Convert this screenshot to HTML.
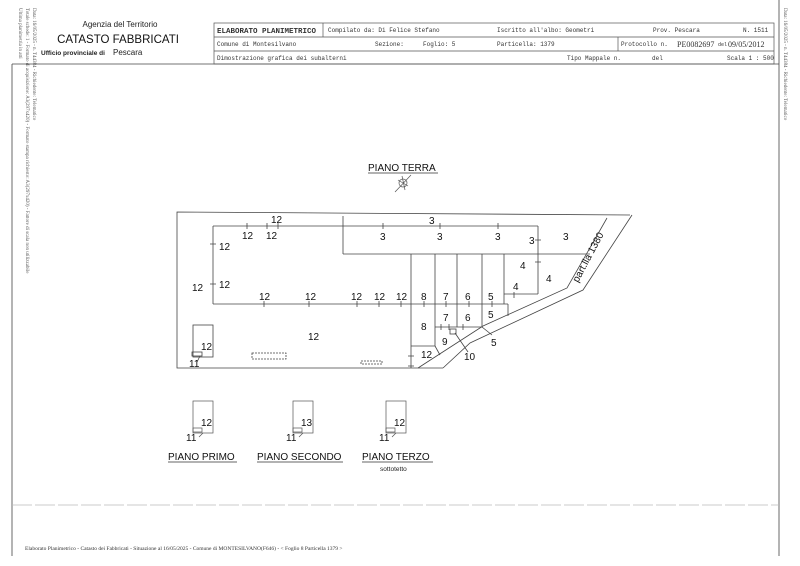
<!DOCTYPE html>
<html><head><meta charset="utf-8"><style>
html,body{margin:0;padding:0;background:#fff;}
svg{display:block;font-family:"Liberation Sans",sans-serif;}
.m{font-family:"Liberation Mono",monospace;font-size:6px;fill:#333;}
.n{font-size:10px;fill:#111;}
</style></head><body>
<svg width="800" height="566" viewBox="0 0 800 566">
<rect width="800" height="566" fill="#fff"/>
<g font-family="Liberation Serif,serif" font-size="5px" fill="#555">
<text transform="translate(33,8) rotate(90)">Data: 16/05/2025 - n. T44384 - Richiedente: Telematico</text>
<text transform="translate(26,8) rotate(90)">Totale schede: 1 - Formato di acquisizione: A3(297x420) - Formato stampa richiesto: A3(297x420) - Fattore di scala non utilizzabile</text>
<text transform="translate(19,8) rotate(90)">Ultima planimetria in atti</text>
<text transform="translate(784,8) rotate(90)">Data: 16/05/2025 - n. T44384 - Richiedente: Telematico</text>
</g>
<g stroke="#444" stroke-width="0.8" fill="none">
<line x1="12" y1="64" x2="12" y2="556"/>
<line x1="779" y1="0" x2="779" y2="556"/>
<line x1="12" y1="64" x2="779" y2="64"/>
<line x1="12" y1="505" x2="779" y2="505" stroke="#bbb" stroke-dasharray="20 3"/>
</g>
<text x="120" y="27" font-size="8" text-anchor="middle" fill="#222">Agenzia del Territorio</text>
<text x="118" y="43" font-size="11.5" text-anchor="middle" fill="#111">CATASTO FABBRICATI</text>
<text x="41" y="55" font-size="6.5" font-weight="bold" fill="#222">Ufficio provinciale di</text>
<text x="113" y="55" font-size="8" fill="#222">Pescara</text>
<g stroke="#555" stroke-width="0.7" fill="none">
<rect x="214" y="23" width="560" height="41"/>
<line x1="214" y1="37" x2="774" y2="37"/>
<line x1="214" y1="51" x2="774" y2="51"/>
<line x1="323" y1="23" x2="323" y2="37"/>
<line x1="618" y1="37" x2="618" y2="51"/>
</g>
<text class="m" x="217" y="33" style="font-size:7.5px;font-weight:bold">ELABORATO PLANIMETRICO</text>
<text class="m" x="328" y="32">Compilato da: Di Felice Stefano</text>
<text class="m" x="497" y="32">Iscritto all'albo: Geometri</text>
<text class="m" x="653" y="32">Prov. Pescara</text>
<text class="m" x="743" y="32">N.  1511</text>
<text class="m" x="217" y="46">Comune di Montesilvano</text>
<text class="m" x="375" y="46">Sezione:</text>
<text class="m" x="423" y="46">Foglio: 5</text>
<text class="m" x="497" y="46">Particella: 1379</text>
<text class="m" x="621" y="46">Protocollo n.</text>
<text x="677" y="47" font-family="Liberation Serif,serif" font-size="8" fill="#333">PE0082697</text>
<text x="718" y="46" class="m" style="font-size:5px">del</text>
<text x="728" y="47" font-family="Liberation Serif,serif" font-size="8" fill="#333">09/05/2012</text>
<text class="m" x="217" y="60">Dimostrazione grafica dei subalterni</text>
<text class="m" x="567" y="60">Tipo Mappale n.</text>
<text class="m" x="652" y="60">del</text>
<text class="m" x="727" y="60">Scala 1 : 500</text>
<text x="368" y="171" font-size="10" fill="#111">PIANO TERRA</text>
<line x1="368" y1="173" x2="438" y2="173" stroke="#333" stroke-width="0.7"/>
<g stroke="#555" stroke-width="0.7" fill="none">
<circle cx="403" cy="183" r="4"/>
<line x1="395" y1="192" x2="411" y2="175"/>
<line x1="398" y1="180" x2="408" y2="186"/>
<line x1="402" y1="176" x2="405" y2="190"/>
</g>
<g stroke="#444" stroke-width="0.8" fill="none">
<polyline points="630,215 177,212 177,368 418,368"/>
<polyline points="607,218 567,288 483,326 418,368"/>
<polyline points="632,215 583,290 470,343 443,368"/>
<line x1="418" y1="368" x2="443" y2="368"/>
<line x1="213" y1="226" x2="538" y2="226"/>
<line x1="213" y1="226" x2="213" y2="304"/>
<line x1="213" y1="304" x2="508" y2="304"/>
<line x1="508" y1="304" x2="508" y2="316"/>
<line x1="343" y1="216" x2="343" y2="254"/>
<line x1="343" y1="254" x2="590" y2="254"/>
<line x1="538" y1="226" x2="538" y2="294"/>
<line x1="504" y1="294" x2="538" y2="294"/>
<line x1="411" y1="254" x2="411" y2="368"/>
<line x1="435" y1="254" x2="435" y2="346"/>
<line x1="457" y1="254" x2="457" y2="327"/>
<line x1="482" y1="254" x2="482" y2="327"/>
<line x1="504" y1="254" x2="504" y2="304"/>
<line x1="435" y1="327" x2="482" y2="327"/>
<line x1="411" y1="346" x2="435" y2="346"/>
<line x1="435" y1="346" x2="440" y2="355"/>
<rect x="450" y="329" width="6" height="5"/>
<line x1="455" y1="333" x2="468" y2="352"/>
<line x1="482" y1="327" x2="492" y2="335"/>
<rect x="193" y="325" width="20" height="32"/>
<rect x="192" y="352" width="10" height="4"/>
<line x1="200" y1="356" x2="197" y2="362"/>
<rect x="252" y="353" width="34" height="6" stroke-dasharray="2 1"/>
<rect x="361" y="361" width="21" height="3" stroke-dasharray="2 1"/>
<path d="M247,223v6 M267,223v6 M278,223v6 M383,223v6 M440,223v6 M498,223v6 M535,240h6 M210,244h6 M210,284h6 M535,262h6 M514,292v6 M264,301v6 M309,301v6 M357,301v6 M379,301v6 M401,301v6 M424,301v6 M446,301v6 M469,301v6 M492,301v6 M441,324v6 M449,324v6 M463,324v6 M408,356h6 M408,366h6"/>
</g>
<g class="n" font-size="10">
<text x="271" y="223">12</text><text x="429" y="224">3</text>
<text x="242" y="239">12</text><text x="266" y="239">12</text>
<text x="380" y="240">3</text><text x="437" y="240">3</text><text x="495" y="240">3</text>
<text x="529" y="244">3</text><text x="563" y="240">3</text>
<text x="219" y="250">12</text><text x="520" y="269">4</text><text x="546" y="282">4</text>
<text x="192" y="291">12</text><text x="219" y="288">12</text><text x="513" y="290">4</text>
<text x="259" y="300">12</text><text x="305" y="300">12</text><text x="351" y="300">12</text>
<text x="374" y="300">12</text><text x="396" y="300">12</text><text x="421" y="300">8</text>
<text x="443" y="300">7</text><text x="465" y="300">6</text><text x="488" y="300">5</text>
<text x="443" y="321">7</text><text x="465" y="321">6</text><text x="488" y="318">5</text>
<text x="421" y="330">8</text><text x="308" y="340">12</text>
<text x="442" y="345">9</text><text x="491" y="346">5</text>
<text x="201" y="350">12</text><text x="421" y="358">12</text><text x="464" y="360">10</text>
<text x="189" y="367">11</text>
<text transform="translate(578,283) rotate(-62)" font-size="10">part.lla 1380</text>
</g>
<g stroke="#555" stroke-width="0.7" fill="none">
<rect x="193" y="401" width="20" height="32"/><rect x="193" y="428" width="9" height="4"/><line x1="203" y1="433" x2="199" y2="437"/>
<rect x="293" y="401" width="20" height="32"/><rect x="293" y="428" width="9" height="4"/><line x1="303" y1="433" x2="299" y2="437"/>
<rect x="386" y="401" width="20" height="32"/><rect x="386" y="428" width="9" height="4"/><line x1="396" y1="433" x2="392" y2="437"/>
</g>
<g class="n">
<text x="201" y="426">12</text><text x="186" y="441">11</text>
<text x="301" y="426">13</text><text x="286" y="441">11</text>
<text x="394" y="426">12</text><text x="379" y="441">11</text>
</g>
<g font-size="10" fill="#111">
<text x="168" y="460">PIANO PRIMO</text>
<text x="257" y="460">PIANO SECONDO</text>
<text x="362" y="460">PIANO TERZO</text>
</g>
<g stroke="#333" stroke-width="0.7">
<line x1="168" y1="462" x2="237" y2="462"/>
<line x1="257" y1="462" x2="343" y2="462"/>
<line x1="362" y1="462" x2="433" y2="462"/>
</g>
<text x="380" y="471" font-size="6.5" fill="#222">sottotetto</text>
<text x="25" y="550" font-family="Liberation Serif,serif" font-size="5.5" fill="#333">Elaborato Planimetrico - Catasto dei Fabbricati - Situazione al 16/05/2025 - Comune di MONTESILVANO(F646) - &lt; Foglio 8 Particella 1379 &gt;</text>
</svg>
</body></html>
